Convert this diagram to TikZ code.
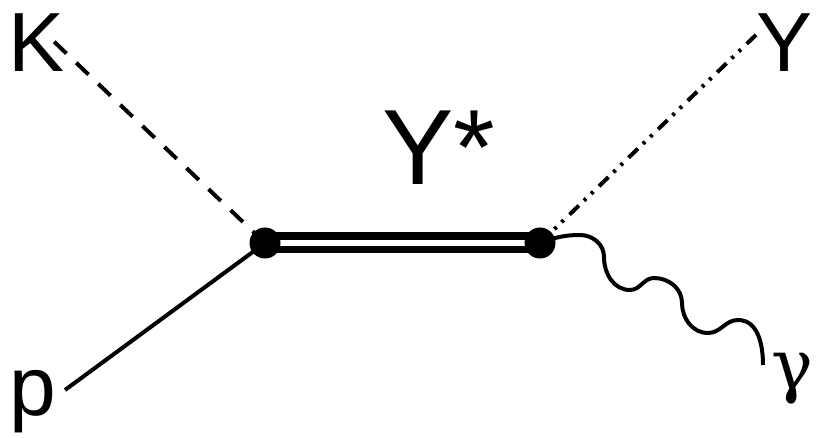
\documentclass[tikz,border=0pt]{standalone}
\usepackage{fontspec}
\setmainfont{Liberation Sans}
\newfontfamily\grkfont{DejaVu Serif}
\usetikzlibrary{positioning,backgrounds}

\begin{document}
\begin{tikzpicture}[x=1pt,y=1pt,
  vtx/.style={circle,fill,inner sep=0pt,minimum size=31pt},
  lbl/.style={inner sep=0pt,anchor=base,font=\fontsize{84}{90}\selectfont},
  kaon/.style={line width=4pt,dash pattern=on 17pt off 13.5pt},
  hyp/.style={line width=4pt,dash pattern=on 13pt off 7pt on 3pt off 7pt on 3pt off 8pt},
  prot/.style={line width=4pt},
  res/.style={double,line width=7.5pt,double distance=6pt},
  phot/.style={line width=4pt}]
\useasboundingbox (0,0) rectangle (817,437);
% --- vertices and external legs ---
\node[vtx] (vL) at (265,194) {};
\node[vtx] (vR) at (540,194) {};
\node[lbl] (K) at (37,365) {K};
\node[lbl] (Y) at (785,365) {Y};
\node[lbl,font=\fontsize{107}{110}\selectfont] (Ys) at (439,252) {Y*};
\node[lbl] (p) at (33,22) {p};
\node[lbl,font=\grkfont\fontsize{70}{80}\selectfont] (g) at (792,48) {γ};
\coordinate (kEnd) at (45,404);
\coordinate (yEnd) at (758,404);
\coordinate (pEnd) at (65,47);
\coordinate (gEnd) at (763,72);
\begin{scope}[on background layer]
\draw[kaon] (vL.center) -- (kEnd);
\draw[hyp] (vR.center) -- (yEnd);
\draw[prot] (vL.center) -- (pEnd);
\draw[res] (vL.center) -- (vR.center);
\draw[phot] (vR.center) to[out=20,in=180] ++(40,8) to[out=0,in=90] ++(24,-22)
  to[out=-90,in=180] ++(26,-33) to[out=0,in=180] ++(24,12) to[out=0,in=90] ++(28,-25)
  to[out=-90,in=180] ++(26,-30) to[out=0,in=180] ++(30,13) to[out=0,in=90] (gEnd);
\end{scope}
\end{tikzpicture}
\end{document}
